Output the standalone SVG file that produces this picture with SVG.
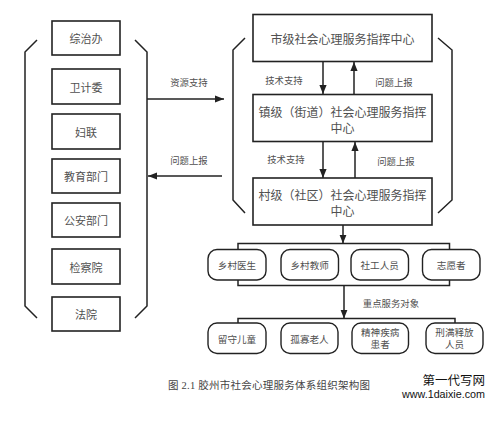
<svg xmlns="http://www.w3.org/2000/svg" width="496" height="424" viewBox="0 0 496 424">
<style>
.box{fill:#fff;stroke:#222;stroke-width:1.6}
.rbox{fill:#fff;stroke:#222;stroke-width:1.4}
.ln{fill:none;stroke:#222;stroke-width:1.5}
.t{font-family:"Noto Sans CJK SC","Noto Sans",sans-serif;fill:#505050;text-anchor:middle;dominant-baseline:central}
.t11{font-size:11px}
.t12{font-size:12px}
.t10{font-size:9.6px}
.lab{font-family:"Noto Sans CJK SC","Noto Sans",sans-serif;fill:#505050;font-size:9.4px;text-anchor:middle;dominant-baseline:central}
</style>
<defs>
<marker id="ah" viewBox="0 0 10 8" refX="10" refY="4" markerWidth="9" markerHeight="7.5" markerUnits="userSpaceOnUse" orient="auto">
<path d="M0,0 L10,4 L0,8 z" fill="#222"/>
</marker>
</defs>
<rect width="496" height="424" fill="#fff"/>

<g id="connectors">
<path class="ln" d="M37,40 L25,52 L25,306 L37,318"/>
<path class="ln" d="M135,40 L147,52 L147,306 L135,318"/>
<path class="ln" d="M245,38 L233,50 L233,200 L245,213"/>
<path class="ln" d="M438,38 L452,50 L452,200 L438,213"/>
<line class="ln" x1="147" y1="99" x2="224" y2="99" marker-end="url(#ah)"/>
<text class="lab" x="189" y="82">资源支持</text>
<line class="ln" x1="222" y1="176" x2="148" y2="176" marker-end="url(#ah)"/>
<text class="lab" x="189" y="160">问题上报</text>
<line class="ln" x1="323" y1="62" x2="323" y2="94" marker-end="url(#ah)"/>
<line class="ln" x1="354" y1="94" x2="354" y2="62" marker-end="url(#ah)"/>
<text class="lab" x="284" y="80">技术支持</text>
<text class="lab" x="394" y="82">问题上报</text>
<line class="ln" x1="323" y1="142" x2="323" y2="178" marker-end="url(#ah)"/>
<line class="ln" x1="355" y1="178" x2="355" y2="142" marker-end="url(#ah)"/>
<text class="lab" x="286" y="159">技术支持</text>
<text class="lab" x="396" y="161">问题上报</text>
<line class="ln" x1="343" y1="225" x2="343" y2="243.5" marker-end="url(#ah)"/>
<rect class="ln" x="238" y="243.5" width="211.5" height="42"/>
<line class="ln" x1="344" y1="285.5" x2="344" y2="318.5" marker-end="url(#ah)"/>
<text class="lab" x="391" y="302.5">重点服务对象</text>
<path class="ln" d="M238,323 V318.5 H455 V323"/>
</g>

<g id="n-zongzhiban"><rect class="box" x="52" y="21" width="68" height="34"/><text class="t t11" x="86" y="38">综治办</text></g>
<g id="n-weijiwei"><rect class="box" x="52" y="69" width="68" height="35"/><text class="t t11" x="86" y="86.5">卫计委</text></g>
<g id="n-fulian"><rect class="box" x="52" y="114" width="68" height="35"/><text class="t t11" x="86" y="131.5">妇联</text></g>
<g id="n-jiaoyu"><rect class="box" x="52" y="159" width="68" height="34"/><text class="t t11" x="86" y="176">教育部门</text></g>
<g id="n-gongan"><rect class="box" x="52" y="203" width="68" height="34"/><text class="t t11" x="86" y="220">公安部门</text></g>
<g id="n-jianchayuan"><rect class="box" x="52" y="249" width="68" height="35"/><text class="t t11" x="86" y="266.5">检察院</text></g>
<g id="n-fayuan"><rect class="box" x="52" y="297" width="68" height="34"/><text class="t t11" x="86" y="314">法院</text></g>

<g id="n-shiji"><rect class="box" x="253" y="14.5" width="179" height="47"/><text class="t t12" x="342.5" y="38">市级社会心理服务指挥中心</text></g>
<g id="n-zhenji"><rect class="box" x="253" y="94.5" width="179" height="47"/><text class="t t12" x="342.5" y="111.5">镇级（街道）社会心理服务指挥</text><text class="t t12" x="342.5" y="127.5">中心</text></g>
<g id="n-cunji"><rect class="box" x="253" y="178" width="179" height="47"/><text class="t t12" x="342.5" y="194.5">村级（社区）社会心理服务指挥</text><text class="t t12" x="342.5" y="210.5">中心</text></g>

<g id="n-xiangcunyisheng"><rect class="rbox" x="208" y="249.5" width="58" height="30.5" rx="9"/><text class="t t10" x="237" y="265">乡村医生</text></g>
<g id="n-xiangcunjiaoshi"><rect class="rbox" x="281" y="249.5" width="57.5" height="30.5" rx="9"/><text class="t t10" x="309.7" y="265">乡村教师</text></g>
<g id="n-shegong"><rect class="rbox" x="351" y="249.5" width="57.5" height="30.5" rx="9"/><text class="t t10" x="379.7" y="265">社工人员</text></g>
<g id="n-zhiyuanzhe"><rect class="rbox" x="422.5" y="249.5" width="57.5" height="30.5" rx="9"/><text class="t t10" x="451.2" y="265">志愿者</text></g>

<g id="n-liushou"><rect class="rbox" x="208" y="323" width="58" height="30.5" rx="9"/><text class="t t10" x="237" y="338.5">留守儿童</text></g>
<g id="n-guagua"><rect class="rbox" x="281" y="323" width="57" height="30.5" rx="9"/><text class="t t10" x="309.5" y="338.5">孤寡老人</text></g>
<g id="n-jingshen"><rect class="rbox" x="352" y="323" width="56.5" height="30.5" rx="9"/><text class="t t10" x="380.2" y="331.5">精神疾病</text><text class="t t10" x="380.2" y="344">患者</text></g>
<g id="n-xingman"><rect class="rbox" x="426" y="323" width="57" height="30.5" rx="9"/><text class="t t10" x="454.5" y="331.5">刑满释放</text><text class="t t10" x="454.5" y="344">人员</text></g>

<text x="168" y="389" font-family="'Liberation Serif','Noto Sans CJK SC',serif" font-size="10.5" fill="#444" textLength="202" lengthAdjust="spacing">图 2.1 胶州市社会心理服务体系组织架构图</text>
<text x="485" y="384.5" font-family="'Noto Sans CJK SC',sans-serif" font-size="12.5" fill="#111" text-anchor="end">第一代写网</text>
<text x="402" y="397.5" font-family="'Liberation Sans',sans-serif" font-size="11" fill="#111" textLength="83" lengthAdjust="spacingAndGlyphs">www.1daixie.com</text>
</svg>
